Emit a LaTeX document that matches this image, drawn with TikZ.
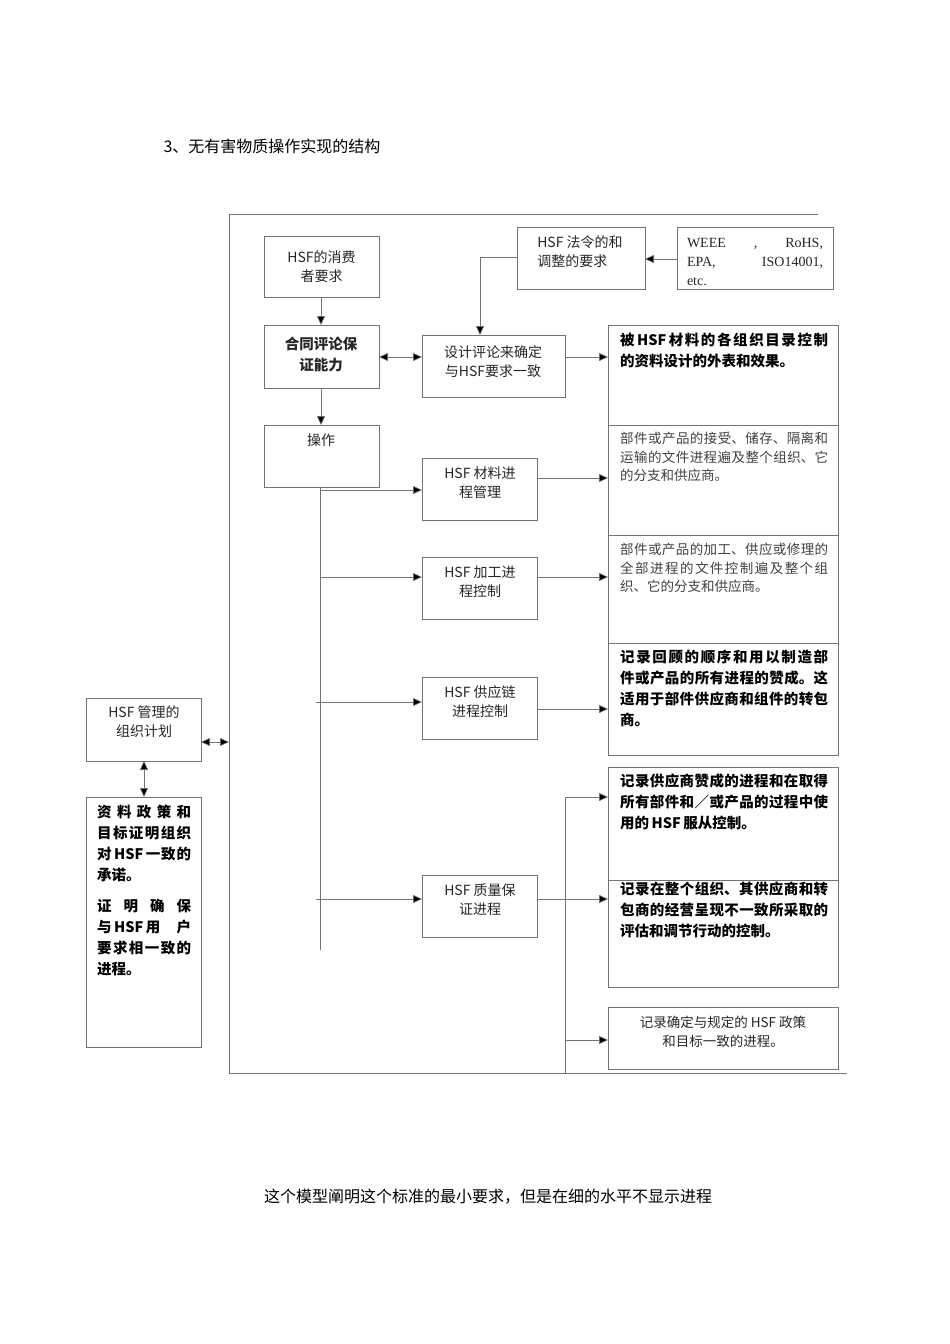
\documentclass[tikz,border=0pt]{standalone}
\usepackage{fontspec}
\setmainfont{Liberation Serif}
\newfontfamily\cjk{Noto Sans CJK SC}
\XeTeXlinebreaklocale "zh"
\XeTeXlinebreakskip=0pt plus 1pt
\usetikzlibrary{arrows.meta}
\begin{document}
\begin{tikzpicture}[x=1pt,y=-1pt,
  bx/.style={draw=black!55,line width=0.6pt,inner sep=0pt},
  ln/.style={draw=black!55,line width=0.6pt},
  ar/.style={ln,-{Triangle[length=9pt,width=8pt,fill=black]}},
  dar/.style={ln,{Triangle[length=9pt,width=8pt,fill=black]}-{Triangle[length=9pt,width=8pt,fill=black]}},
  tx/.style={font=\cjk\fontsize{14}{19}\selectfont,align=center,text=black!85},
  rt/.style={font=\cjk\fontsize{14.5}{21}\selectfont,align=justify,text width=208pt,anchor=north west,inner sep=0pt}]
\useasboundingbox (0,0) rectangle (950,1344);
\node[anchor=west,font=\cjk\fontsize{16}{18}\selectfont] (title) at (160,146) {3、无有害物质操作实现的结构};
\node[font=\cjk\fontsize{16}{18}\selectfont] (cap) at (488,1197) {这个模型阐明这个标准的最小要求，但是在细的水平不显示进程};
% frame
\coordinate (f1) at (818,214); \coordinate (f2) at (229,214); \coordinate (f3) at (229,1073); \coordinate (f4) at (847,1073);
\draw[ln] (f1)--(f2)--(f3)--(f4);
% boxes
\draw[bx] (264,236) rectangle (379,297) node[pos=.5,tx] (cons) {HSF的消费\\者要求};
\draw[bx] (264,325) rectangle (379,388);
\node[tx,font=\cjk\bfseries\fontsize{14.5}{21}\selectfont] (contr) at (321,354) {合同评论保\\证能力};
\draw[bx] (264,425) rectangle (379,487);
\node[tx] (op) at (321,440) {操作};
\draw[bx] (517,227) rectangle (645,289); \node[tx,align=left] (law) at (580,252) {HSF 法令的和\\调整的要求};
\draw[bx] (677,227) rectangle (833,289);
\node[tx,font=\fontsize{14}{19}\selectfont,align=justify,text width=136pt] (weee) at (755,262) {WEEE \hfill, \hfill RoHS,\\EPA, \hfill ISO14001,\\etc.};
\draw[bx] (422,335) rectangle (565,397); \node[tx] (des) at (493,362) {设计评论来确定\\与HSF要求一致};
\draw[bx] (422,458) rectangle (537,520); \node[tx] (mat) at (480,483) {HSF 材料进\\程管理};
\draw[bx] (422,557) rectangle (537,619); \node[tx] (proc) at (480,582) {HSF 加工进\\程控制};
\draw[bx] (422,677) rectangle (537,739); \node[tx] (sup) at (480,702) {HSF 供应链\\进程控制};
\draw[bx] (422,875) rectangle (537,937); \node[tx] (qa) at (480,900) {HSF 质量保\\证进程};
\draw[bx] (86,698) rectangle (201,761); \node[tx] (mg) at (144,722) {HSF 管理的\\组织计划};
\draw[bx] (86,797) rectangle (201,1047);
\node[rt,text width=94pt,font=\cjk\bfseries\fontsize{14.5}{21}\selectfont] (pol) at (97,805) {资料政策和目标证明组织对\,HSF\,一致的承诺。\\[10pt]证明确保与\,HSF\,用户要求相一致的进程。};
% right column
\draw[bx] (608,325) rectangle (838,425); \node[rt,font=\cjk\bfseries\fontsize{14.5}{21}\selectfont] (r1) at (620,333) {被\,HSF\,材料的各组织目录控制的资料设计的外表和效果。};
\draw[bx] (608,425) rectangle (838,535); \node[rt,font=\cjk\fontsize{13.5}{18.5}\selectfont,text=black!75] (r2) at (620,432) {部件或产品的接受、储存、隔离和运输的文件进程遍及整个组织、它的分支和供应商。};
\draw[bx] (608,535) rectangle (838,643); \node[rt,font=\cjk\fontsize{13.5}{18.5}\selectfont,text=black!75] (r3) at (620,543) {部件或产品的加工、供应或修理的全部进程的文件控制遍及整个组织、它的分支和供应商。};
\draw[bx] (608,643) rectangle (838,755); \node[rt,font=\cjk\bfseries\fontsize{14.5}{21}\selectfont] (r4) at (620,650) {记录回顾的顺序和用以制造部件或产品的所有进程的赞成。这适用于部件供应商和组件的转包商。};
\draw[bx] (608,767) rectangle (838,880); \node[rt,font=\cjk\bfseries\fontsize{14.5}{21}\selectfont] (q1) at (620,774) {记录供应商赞成的进程和在取得所有部件和／或产品的过程中使用的\,HSF\,服从控制。};
\draw[bx] (608,880) rectangle (838,987); \node[rt,font=\cjk\bfseries\fontsize{14.5}{21}\selectfont] (q2) at (620,882) {记录在整个组织、其供应商和转包商的经营呈现不一致所采取的评估和调节行动的控制。};
\draw[bx] (608,1007) rectangle (838,1069); \node[tx,font=\cjk\fontsize{13.5}{19}\selectfont] (q3) at (723,1032) {记录确定与规定的 HSF 政策\\和目标一致的进程。};
% connectors
\draw[ar] (321,297)--(321,325);
\draw[ar] (321,388)--(321,425);
\draw[dar] (379,357)--(422,357);
\draw[ar] (517,257)--(480,257)--(480,335);
\draw[ar] (677,259)--(645,259);
\draw[ar] (565,357)--(608,357);
\draw[ar] (537,478)--(608,478);
\draw[ar] (537,577)--(608,577);
\draw[ar] (537,709)--(608,709);
\draw[ln] (320,487)--(320,950);
\draw[ar] (320,490)--(422,490);
\draw[ar] (320,577)--(422,577);
\draw[ar] (316,702)--(422,702);
\draw[ar] (316,899)--(422,899);
\draw[ln] (537,899)--(565,899);
\draw[ln] (565,797)--(565,1073);
\draw[ar] (565,797)--(608,797);
\draw[ar] (565,899)--(608,899);
\draw[ar] (565,1040)--(608,1040);
\draw[dar] (201,742)--(229,742);
\draw[dar] (144,761)--(144,797);
\end{tikzpicture}
\end{document}
